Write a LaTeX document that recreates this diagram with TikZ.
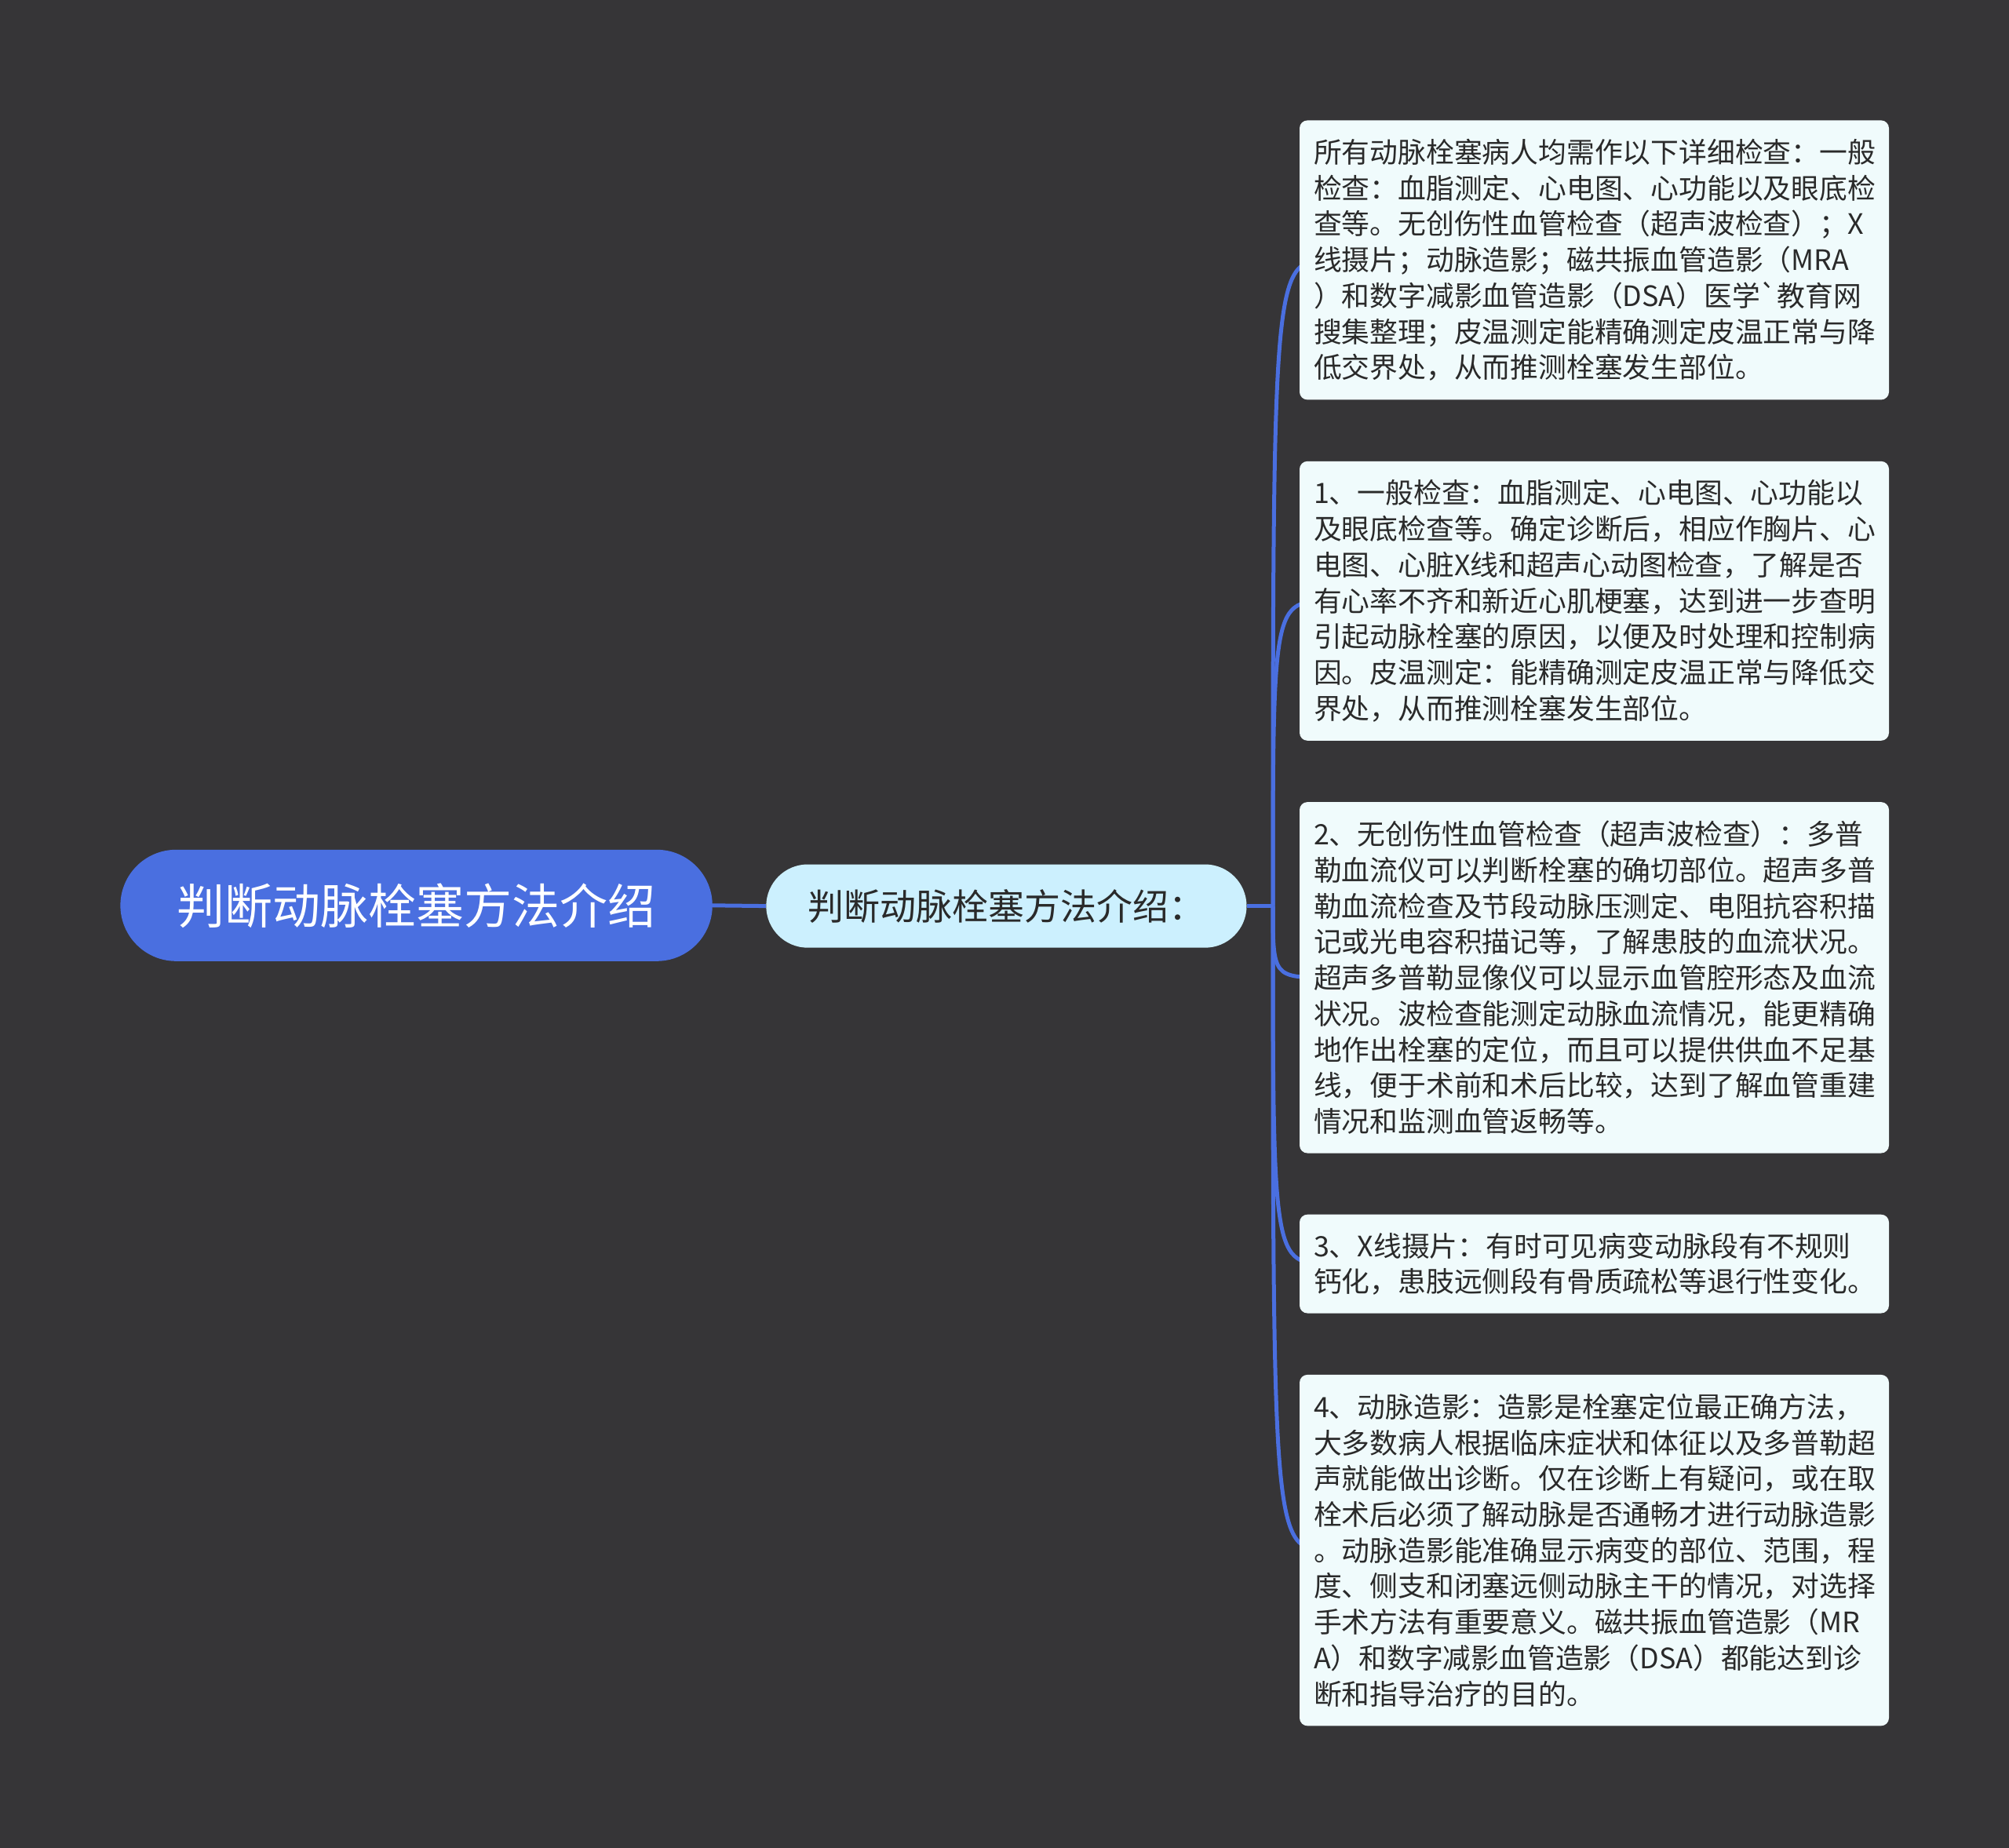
\documentclass[tikz,border=0pt]{standalone}
\usepackage{fontspec}
\newfontfamily\cjk{Noto Sans CJK SC}
\usetikzlibrary{shapes.misc}
\definecolor{bgc}{HTML}{363537}
\definecolor{rootc}{HTML}{4A6FE0}
\definecolor{subc}{HTML}{CCF0FE}
\definecolor{boxc}{HTML}{F0FBFC}
\definecolor{txtc}{HTML}{2A2A2A}
\pgfdeclarelayer{bg}
\pgfsetlayers{bg,main}
\tikzset{
  rootnode/.style={rounded rectangle, fill=rootc, text=white, minimum width=377.2pt, minimum height=71pt, inner sep=0pt, font=\cjk\fontsize{30.5pt}{36pt}\selectfont},
  subnode/.style={rounded rectangle, fill=subc, text=txtc, minimum width=306.1pt, minimum height=53.1pt, inner sep=0pt, font=\cjk\fontsize{23pt}{28pt}\selectfont},
  infobox/.style={rectangle, rounded corners=5pt, fill=boxc, text=txtc, anchor=west, text width=357.5pt, inner xsep=9pt, inner ysep=0pt, minimum width=375.5pt, align=left, font=\cjk\fontsize{17.9pt}{22.85pt}\selectfont},
  conn/.style={draw=rootc, line width=2.5pt}
}
\begin{document}
\begin{tikzpicture}[x=1pt,y=-1pt]
\begin{pgfonlayer}{bg}
\fill[bgc] (0,0) rectangle (1280,1177.5);
\end{pgfonlayer}
\useasboundingbox (0,0) rectangle (1280,1177.5);

\node[rootnode] (root) at (265.3,576.9) {判断动脉栓塞方法介绍};
\node[subnode] (sub) at (641.2,577.3) {判断动脉栓塞方法介绍：};
\coordinate (trunk) at (811,577.3);

\node[infobox, minimum height=178pt] (b1) at (827.8,165.7) {所有动脉栓塞病人均需作以下详细检查：一般\\检查：血脂测定、心电图、心功能以及眼底检\\查等。无创伤性血管检查（超声波检查）；X\\线摄片；动脉造影；磁共振血管造影（MRA\\）和数字减影血管造影（DSA）医学`教育网\\搜集整理；皮温测定能精确测定皮温正常与降\\低交界处，从而推测栓塞发生部位。};
\node[infobox, minimum height=178pt] (b2) at (827.8,382.9) {1、一般检查：血脂测定、心电图、心功能以\\及眼底检查等。确定诊断后，相应作胸片、心\\电图、心脏X线和超声心动图检查，了解是否\\有心率不齐和新近心肌梗塞，达到进一步查明\\引起动脉栓塞的原因，以便及时处理和控制病\\因。皮温测定：能精确测定皮温正常与降低交\\界处，从而推测栓塞发生部位。};
\node[infobox, minimum height=223.7pt] (b3) at (827.8,622.9) {2、无创伤性血管检查（超声波检查）：多普\\勒血流仪可以判断栓塞的确切部位。超声多普\\勒血流检查及节段动脉压测定、电阻抗容积描\\记或光电容积描记等，了解患肢的血流状况。\\超声多普勒显像仪可以显示血管腔形态及血流\\状况。波检查能测定动脉血流情况，能更精确\\地作出栓塞的定位，而且可以提供供血不足基\\线，便于术前和术后比较，达到了解血管重建\\情况和监测血管返畅等。};
\node[infobox, minimum height=62.9pt] (b4) at (827.8,805.3) {3、X线摄片：有时可见病变动脉段有不规则\\钙化，患肢远侧段有骨质疏松等退行性变化。};
\node[infobox, minimum height=223.7pt] (b5) at (827.8,987.8) {4、动脉造影：造影是栓塞定位最正确方法，\\大多数病人根据临床症状和体征以及多普勒超\\声就能做出诊断。仅在诊断上有疑问，或在取\\栓术后必须了解动脉是否通畅才进行动脉造影\\。动脉造影能准确显示病变的部位、范围，程\\度、侧支和闭塞远侧动脉主干的情况，对选择\\手术方法有重要意义。磁共振血管造影（MR\\A）和数字减影血管造影（DSA）都能达到诊\\断和指导治疗的目的。};

\begin{pgfonlayer}{bg}
\draw[conn] (root.east) -- (sub.west);
\draw[conn] (sub.east) -- (trunk);
\foreach \b in {b1,b2,b3,b4,b5}{
  \draw[conn] (trunk) .. controls (trunk |- \b.west) and (trunk |- \b.west) .. ([xshift=20pt]\b.west);
}
\end{pgfonlayer}
\end{tikzpicture}
\end{document}
